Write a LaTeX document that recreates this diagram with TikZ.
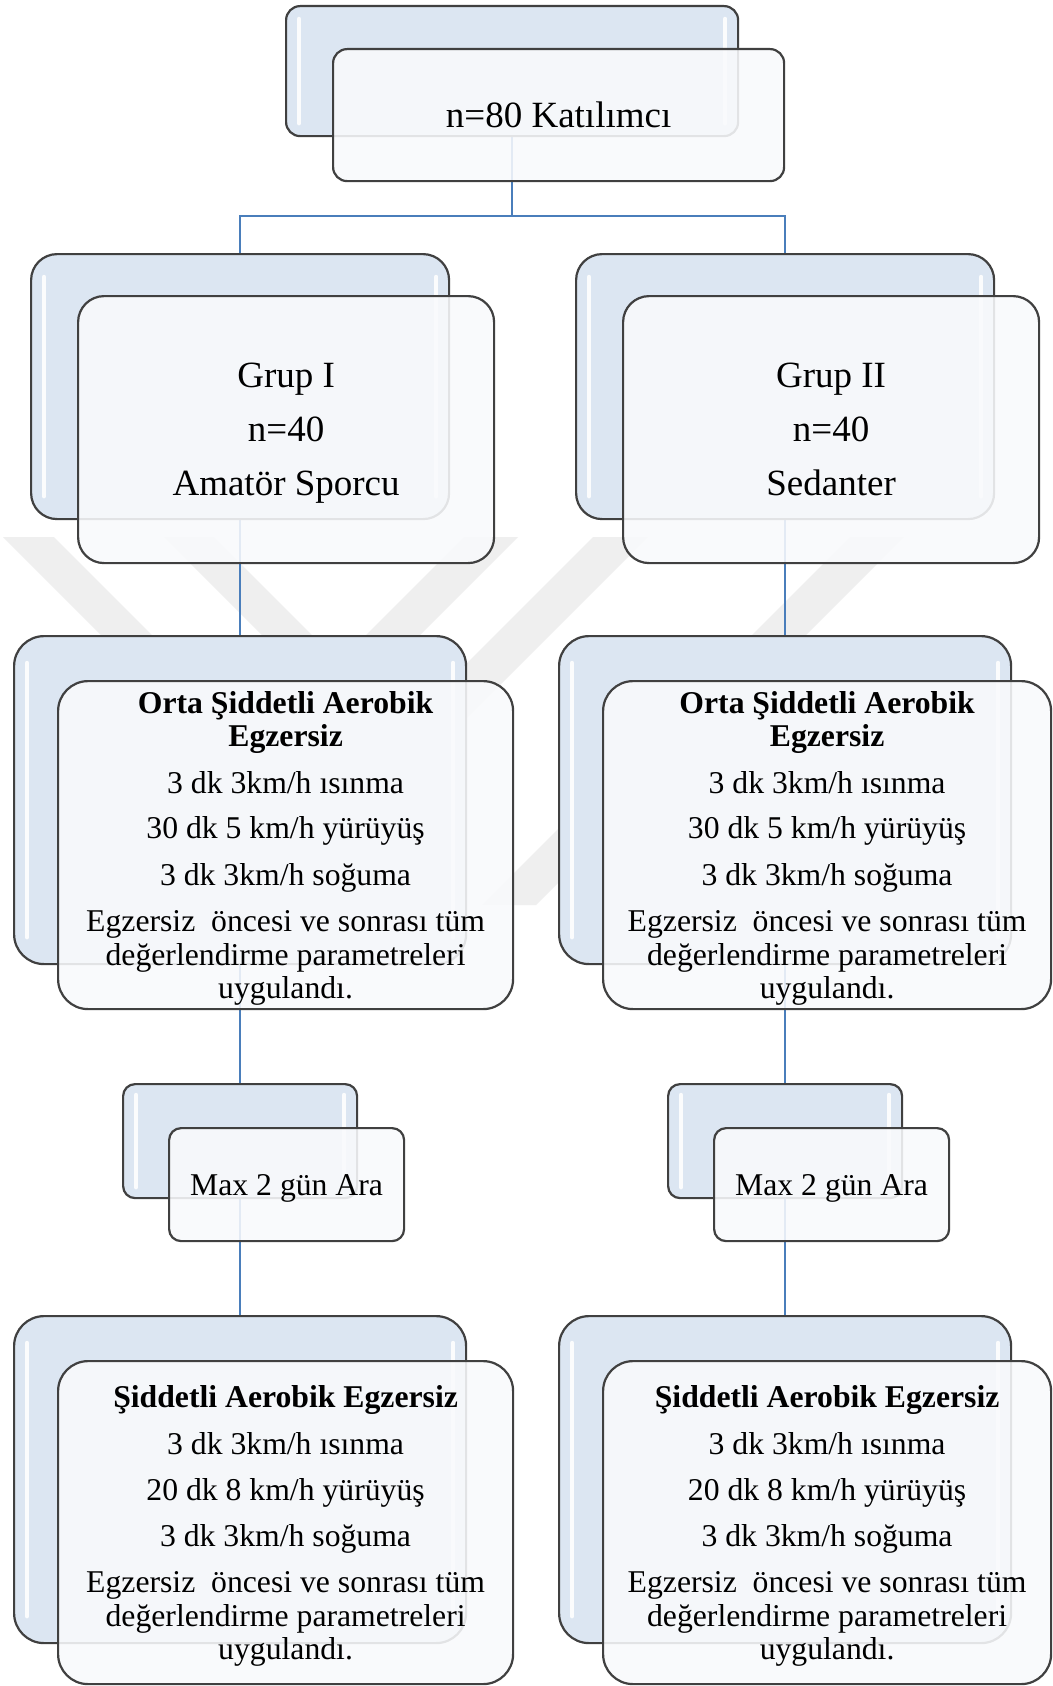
\documentclass[tikz,border=0pt]{standalone}
\usepackage{fontspec}
\setmainfont{Liberation Serif}
\pgfdeclarelayer{wm}
\pgfdeclarelayer{bg}
\pgfsetlayers{wm,bg,main}
\definecolor{backfill}{HTML}{DCE6F2}
\definecolor{frontfill}{HTML}{F9FAFC}
\definecolor{bordercol}{HTML}{404040}
\definecolor{linkcol}{HTML}{4A7EBB}
\definecolor{wmcol}{HTML}{EFEFEF}
\tikzset{
  backbox/.style={draw=bordercol, line width=2.2pt, fill=backfill, rounded corners=#1, anchor=north west, inner sep=0pt},
  frontbox/.style={draw=bordercol, line width=2.2pt, fill=frontfill, fill opacity=0.88, draw opacity=1, text opacity=1, rounded corners=#1, anchor=north west, inner sep=0pt, align=center},
  link/.style={draw=linkcol, line width=2.5pt},
  shine/.style={white, line width=4.5pt, line cap=round, opacity=0.9},
  bodyfont/.style={font=\fontsize{31.7}{33.5}\selectfont},
}
\newcommand\boxshine[2]{%
  \draw[shine] ([xshift=14pt,yshift=-#2pt]#1.north west) -- ([xshift=14pt,yshift=#2pt]#1.south west);
  \draw[shine] ([xshift=-14pt,yshift=-#2pt]#1.north east) -- ([xshift=-14pt,yshift=#2pt]#1.south east);}
\newcommand\nodepth[1]{\raisebox{0pt}[\height][0pt]{#1}}
\newcommand\midtext[1]{\textbf{Orta Şiddetli Aerobik}\\ \textbf{Egzersiz}\\[13pt] 3 dk 3km/h ısınma\\[12pt] #1\\[13pt] 3 dk 3km/h soğuma\\[13pt] Egzersiz~ öncesi ve sonrası tüm\\ değerlendirme parametreleri\\ \nodepth{uygulandı.}}
\newcommand\lowtext[1]{\textbf{Şiddetli Aerobik Egzersiz}\\[13pt] 3 dk 3km/h ısınma\\[13pt] #1\\[12pt] 3 dk 3km/h soğuma\\[13pt] Egzersiz~ öncesi ve sonrası tüm\\ değerlendirme parametreleri\\ \nodepth{uygulandı.}}
\begin{document}
\begin{tikzpicture}[x=1pt,y=-1pt]
\useasboundingbox (0,0) rectangle (1052,1686);

% background and watermark
\begin{pgfonlayer}{wm}
\fill[white] (0,0) rectangle (1052,1686);
\fill[wmcol] (3,537) -- (54,537) -- (422,905) -- (371,905) -- cycle;
\fill[wmcol] (164,537) -- (214,537) -- (339,662) -- (464,537) -- (518,537) -- (341,714) -- cycle;
\fill[wmcol] (593,537) -- (648,537) -- (385,800) -- (330,800) -- cycle;
\fill[wmcol] (850,537) -- (904,537) -- (536,905) -- (482,905) -- cycle;
\end{pgfonlayer}

% top
\node[backbox=14pt, minimum width=452pt, minimum height=130pt] (topb) at (285,5) {};
\boxshine{topb}{14}
\node[frontbox=14pt, minimum width=451pt, minimum height=132pt, font=\fontsize{37}{40}\selectfont] (topf) at (332,48) {n=80 Katılımcı};

% groups
\node[backbox=26pt, minimum width=418pt, minimum height=265pt] (g1b) at (30,253) {};
\boxshine{g1b}{24}
\node[frontbox=26pt, minimum width=416pt, minimum height=267pt, font=\fontsize{37}{54}\selectfont] (g1f) at (77,295) {Grup I\\ n=40\\ \nodepth{Amatör Sporcu}};
\node[backbox=26pt, minimum width=418pt, minimum height=265pt] (g2b) at (575,253) {};
\boxshine{g2b}{24}
\node[frontbox=26pt, minimum width=416pt, minimum height=267pt, font=\fontsize{37}{54}\selectfont] (g2f) at (622,295) {Grup II\\ n=40\\ Sedanter};

% moderate exercise
\node[backbox=30pt, minimum width=452pt, minimum height=328pt] (m1b) at (13,635) {};
\boxshine{m1b}{28}
\node[frontbox=30pt, minimum width=455pt, minimum height=328pt, bodyfont] (m1f) at (57,680) {\midtext{30 dk 5 km/h yürüyüş}};
\node[backbox=30pt, minimum width=452pt, minimum height=328pt] (m2b) at (558,635) {};
\boxshine{m2b}{28}
\node[frontbox=30pt, minimum width=448pt, minimum height=328pt, bodyfont] (m2f) at (602,680) {\midtext{30 dk 5 km/h yürüyüş}};

% pause
\node[backbox=12pt, minimum width=234pt, minimum height=114pt] (x1b) at (122,1083) {};
\boxshine{x1b}{12}
\node[frontbox=12pt, minimum width=235pt, minimum height=113pt, font=\fontsize{31.7}{34}\selectfont] (x1f) at (168,1127) {\nodepth{Max 2 gün Ara}};
\node[backbox=12pt, minimum width=234pt, minimum height=114pt] (x2b) at (667,1083) {};
\boxshine{x2b}{12}
\node[frontbox=12pt, minimum width=235pt, minimum height=113pt, font=\fontsize{31.7}{34}\selectfont] (x2f) at (713,1127) {\nodepth{Max 2 gün Ara}};

% vigorous exercise
\node[backbox=30pt, minimum width=452pt, minimum height=327pt] (s1b) at (13,1315) {};
\boxshine{s1b}{28}
\node[frontbox=30pt, minimum width=455pt, minimum height=323pt, bodyfont] (s1f) at (57,1360) {\lowtext{20 dk 8 km/h yürüyüş}};
\node[backbox=30pt, minimum width=452pt, minimum height=327pt] (s2b) at (558,1315) {};
\boxshine{s2b}{28}
\node[frontbox=30pt, minimum width=448pt, minimum height=323pt, bodyfont] (s2f) at (602,1360) {\lowtext{20 dk 8 km/h yürüyüş}};

% connectors
\begin{pgfonlayer}{bg}
\coordinate (lvl) at (0,216);
\draw[link] (topb.south) -- (topb.south |- lvl);
\draw[link] (g1b.north) -- (g1b.north |- lvl) -- (g2b.north |- lvl) -- (g2b.north);
\draw[link] (g1b.south) -- (m1b.north);
\draw[link] (m1b.south) -- (x1b.north);
\draw[link] (x1b.south) -- (s1b.north);
\draw[link] (g2b.south) -- (m2b.north);
\draw[link] (m2b.south) -- (x2b.north);
\draw[link] (x2b.south) -- (s2b.north);
\end{pgfonlayer}
\end{tikzpicture}
\end{document}
